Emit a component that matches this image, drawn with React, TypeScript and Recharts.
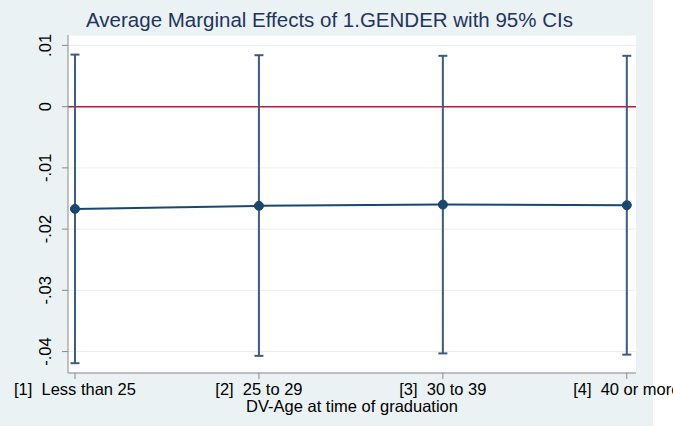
import { ComposedChart, Line, XAxis, YAxis, CartesianGrid, ReferenceLine, ErrorBar } from 'recharts';

const levels = [1, 2, 3, 4];
const categories = ['[1]  Less than 25', '[2]  25 to 29', '[3]  30 to 39', '[4]  40 or more'];
const margins = [-0.0167, -0.0162, -0.016, -0.0161];
const lowerCI = [-0.0419, -0.0407, -0.0403, -0.0405];
const upperCI = [0.0085, 0.0084, 0.0083, 0.0083];
const yTicks = [0.01, 0, -0.01, -0.02, -0.03, -0.04];

const data = levels.map((x, i) => ({
    x,
    y: margins[i],
    ci: [margins[i] - lowerCI[i], upperCI[i] - margins[i]],
}));

const fmt = (v: number) => {
    if (Math.abs(v) < 1e-9) return '0';
    return (v < 0 ? '-' : '') + Math.abs(v).toFixed(2).replace(/^0/, '');
};

const FONT = '"Liberation Sans", Arial, sans-serif';

const YTick = (props: any) => {
    const { x, y, payload } = props;
    const tx = x - 9;
    return (
        <text x={tx} y={y} transform={`rotate(-90, ${tx}, ${y})`} textAnchor="middle"
            fontFamily={FONT} fontSize={16.5} fill="#000">
            {fmt(payload.value)}
        </text>
    );
};

const XTick = (props: any) => {
    const { x, y, payload } = props;
    return (
        <text x={x} y={y} dy={13.5} textAnchor="middle" fontFamily={FONT} fontSize={16.5}
            fill="#000" style={{ whiteSpace: 'pre' }}>
            {categories[levels.indexOf(payload.value)]}
        </text>
    );
};

export default function App() {
    return (
        <div style={{ position: 'absolute', left: 0, top: 0, width: 673, height: 426, background: '#fff', overflow: 'hidden' }}>
            <div style={{ position: 'absolute', left: 0, top: 0, width: 653, height: 426, background: '#eaf2f3' }} />
            <div style={{
                position: 'absolute', left: 0, top: 8, width: 659, textAlign: 'center',
                fontFamily: FONT, fontSize: 20.5, color: '#1f3460', lineHeight: '24px',
            }}>
                Average Marginal Effects of 1.GENDER with 95% CIs
            </div>
            <div style={{ position: 'absolute', left: 0, top: 0 }}>
                <ComposedChart width={673} height={426} data={data}
                    margin={{ top: 35, right: 37, left: 0, bottom: 0 }}>
                    <CartesianGrid fill="#fff" vertical={false} stroke="#e8eff1" strokeWidth={1} />
                    <XAxis dataKey="x" type="number" domain={[0.962, 4.05]} ticks={levels}
                        height={53} tick={<XTick />} tickSize={6} stroke="#8a8a8a"
                        allowDataOverflow
                        label={{ value: 'DV-Age at time of graduation', position: 'insideBottom', offset: 14, fill: '#000', fontFamily: FONT, fontSize: 16.5 }} />
                    <YAxis type="number" domain={[-0.0435, 0.0117]} ticks={yTicks} width={68}
                        tick={<YTick />} tickSize={6} stroke="#8a8a8a" allowDataOverflow />
                    <ReferenceLine y={0} stroke="#c0173e" strokeWidth={1.5} />
                    <Line dataKey="y" stroke="#1a476f" strokeWidth={2}
                        dot={{ r: 4.5, fill: '#1a476f', stroke: '#1a476f', strokeWidth: 1 }}
                        isAnimationActive={false}>
                        <ErrorBar dataKey="ci" direction="y" width={4.5} stroke="#3d5c84" strokeWidth={2} isAnimationActive={false} />
                    </Line>
                </ComposedChart>
            </div>
        </div>
    );
}
